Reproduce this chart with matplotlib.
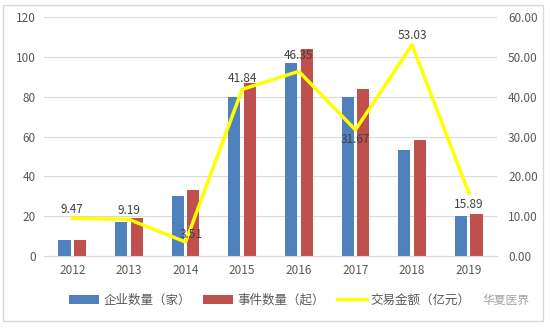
import matplotlib
matplotlib.use("Agg")
import matplotlib.pyplot as plt
import numpy as np
from matplotlib.patches import Rectangle

plt.rcParams['font.family'] = ['Noto Sans CJK SC', 'DejaVu Sans']

years = ['2012', '2013', '2014', '2015', '2016', '2017', '2018', '2019']
companies = [8, 17, 30, 80, 97, 80, 53, 20]
events = [8, 19, 33, 87, 104, 84, 58, 21]
amount = [9.47, 9.19, 3.51, 41.84, 46.35, 31.67, 53.03, 15.89]
left_ticks = [0, 20, 40, 60, 80, 100, 120]
right_ticks = [0, 10, 20, 30, 40, 50, 60]

blue = '#4F81BD'
red = '#C0504D'
yellow = '#FFFF00'
tick_col = '#595959'

fig = plt.figure(figsize=(5.5, 3.29), dpi=100)
fig.patch.set_facecolor('white')
ax = fig.add_axes([44/550, 1-256/329, (497-44)/550, (256-17)/329])
ax2 = ax.twinx()

x = np.arange(len(years))
w = 0.215
gap = 0.06
ax.bar(x - (w+gap)/2, companies, w, color=blue, label='企业数量（家）', zorder=2)
ax.bar(x + (w+gap)/2, events, w, color=red, label='事件数量（起）', zorder=2)
ax.set_ylim(0, 120)
ax.set_xlim(-0.5, len(years)-0.5)
ax.set_yticks(left_ticks)
ax.set_yticklabels([str(t) for t in left_ticks])
ax.set_xticks(x)
ax.set_xticklabels(years)
ax.grid(axis='y', color='#D9D9D9', linewidth=0.8, zorder=0)
ax.set_axisbelow(True)
for s in ['top', 'right', 'left']:
    ax.spines[s].set_visible(False)
ax.spines['bottom'].set_color('#D9D9D9')
ax.tick_params(axis='both', length=0, labelsize=8.5, labelcolor=tick_col, pad=6)

ln, = ax2.plot(x, amount, color=yellow, linewidth=2.5, label='交易金额（亿元）', zorder=3)
ax2.set_ylim(0, 60)
ax2.set_yticks(right_ticks)
ax2.set_yticklabels([f'{t:.2f}' for t in right_ticks])
for s in ['top', 'right', 'left', 'bottom']:
    ax2.spines[s].set_visible(False)
ax2.tick_params(axis='y', length=0, labelsize=8.5, labelcolor=tick_col, pad=8)

# (dx, dy) label offsets in points
offsets = [(0, 2), (0, 2), (4, 1), (0, 3), (0, 7), (0, -2), (0, 2), (0, -3.5)]
for i, v in enumerate(amount):
    dx, dy = offsets[i]
    va = 'bottom' if dy >= 0 else 'top'
    ax2.annotate(f'{v:.2f}', (x[i], v), xytext=(dx, dy), textcoords='offset points',
                 ha='center', va=va, fontsize=8.5, color='#404040', zorder=4)

h1, l1 = ax.get_legend_handles_labels()
leg = fig.legend(h1 + [ln], l1 + ['交易金额（亿元）'], loc='center', bbox_to_anchor=(270/550, 1-300/329),
                 ncol=3, frameon=False, fontsize=9, handlelength=2.4, handleheight=0.7,
                 columnspacing=1.0, handletextpad=0.3)
for t in leg.get_texts():
    t.set_color(tick_col)

fig.text(506/550, 1-300/329, '华夏医界', fontsize=8.5, color='#8C8C8C', ha='center', va='center', alpha=0.8)

fig.patches.append(Rectangle((3/550, 1-321/329), 540/550, 316/329, transform=fig.transFigure,
                             fill=False, edgecolor='#D9D9D9', linewidth=1))

fig.savefig('out.png', dpi=100)
